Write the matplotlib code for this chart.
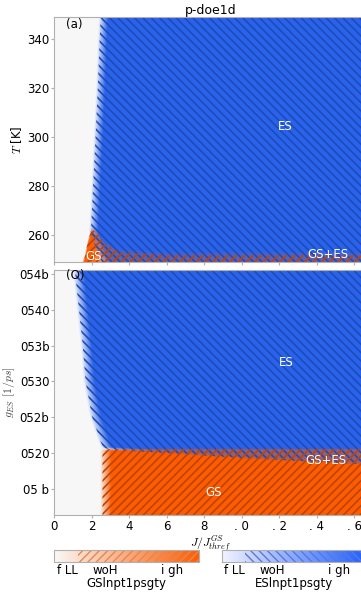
import numpy as np
import matplotlib
matplotlib.use('Agg')
import matplotlib.pyplot as plt
from matplotlib.colors import LinearSegmentedColormap, Normalize
from matplotlib.cm import ScalarMappable

# ---------------- data ----------------
title = "p-doe1d"
x_ticks = [0, 2, 4, 6, 8, 10, 12, 14, 16]
x_ticklabels = ["0", "2", "4", "6", "8", ". 0", ". 2", ". 4", ". 6"]
T_ticks = [260, 280, 300, 320, 340]
g_ticks = [0.015, 0.020, 0.025, 0.030, 0.035, 0.040, 0.045]
g_ticklabels = ["05 b", "0520", "052b", "0530", "053b", "0540", "054b"]
cbar_ticks = [0.09, 0.35, 0.81]
cbar_ticklabels = ["f LL", "woH", "i gh"]
cbar_labels = ["GSlnpt1psgty", "ESlnpt1psgty"]

J_range = [0.0, 16.7]
T_range = [248.8, 349.0]
g_range = [0.0113, 0.0456]

# top panel: ES lasing threshold J vs T
T_es_pts = [248.8, 252, 256, 261, 280, 300, 320, 340, 349]
J_es_pts = [2.45, 2.25, 2.05, 1.85, 1.97, 2.1, 2.22, 2.32, 2.38]
# top panel: GS upper temperature vs J, and GS strength vs J
J_gs_top_pts = [1.5, 1.65, 1.8, 2.0, 2.3, 2.7, 3.5, 6.0, 16.7]
T_gs_top_pts = [248.8, 252, 258, 263, 261, 257, 254, 253, 253]
gs_top_amp = [1.0, 1.0, 1.0, 1.0, 0.8, 0.5, 0.35, 0.3, 0.3]

# bottom panel: ES threshold J vs g_ES
g_es_pts = [0.0113, 0.0205, 0.022, 0.025, 0.030, 0.035, 0.040, 0.045, 0.0456]
J_es_bot_pts = [2.5, 2.5, 2.3, 1.9, 1.55, 1.4, 1.2, 1.0, 1.0]
# bottom panel: ES lower g boundary vs J
J_esfloor_pts = [2.5, 4, 6, 10, 16.7]
g_esfloor_pts = [0.0205, 0.0202, 0.0199, 0.0192, 0.0183]
# bottom panel: GS threshold and upper g
J_gs_bot = 2.45
g_gs_ceiling = 0.0206

top_texts = [("ES", 12.3, 304.5), ("GS+ES", 14.6, 251.8), ("GS", 2.1, 251.0)]
bot_texts = [("ES", 12.4, 0.0326), ("GS+ES", 14.5, 0.0190), ("GS", 8.5, 0.01444)]

# ---------------- colours ----------------
ORANGE = np.array([1.0, 0.36, 0.0])
BLUE = np.array([0.16, 0.39, 0.93])
WHITE = np.array([0.97, 0.97, 0.97])
HATCH_ES = (0.13, 0.29, 0.70)
HATCH_GS = (0.72, 0.27, 0.04)


def mix(gs, es):
    w = 1 - np.maximum(gs, es)
    tot = gs + es + w
    rgb = (gs[..., None] * ORANGE + es[..., None] * BLUE + w[..., None] * WHITE) / tot[..., None]
    return np.clip(rgb, 0, 1)


plt.rcParams['mathtext.fontset'] = 'cm'

W, H = 361, 592
fig = plt.figure(figsize=(W / 100, H / 100), dpi=100)

ax_l = 54.3 / W
ax_w = (367.3 - 54.3) / W
ax_h = 245 / H
ax1 = fig.add_axes([ax_l, 1 - 262.3 / H, ax_w, ax_h])
ax2 = fig.add_axes([ax_l, 1 - 515 / H, ax_w, ax_h])

J = np.linspace(J_range[0], J_range[1], 500)

# top panel field
T = np.linspace(T_range[0], T_range[1], 400)
JJ, TT = np.meshgrid(J, T)
es_t = np.clip((JJ - np.interp(TT, T_es_pts, J_es_pts)) / 0.5, 0, 1)
gs_t = (np.clip((np.interp(JJ, J_gs_top_pts, T_gs_top_pts) - TT) / 2.0, 0, 1)
        * np.interp(JJ, J_gs_top_pts, gs_top_amp))
ax1.imshow(mix(gs_t, es_t), origin='lower', aspect='auto', interpolation='bilinear',
           extent=[J_range[0], J_range[1], T_range[0], T_range[1]])

# bottom panel field
g = np.linspace(g_range[0], g_range[1], 400)
JJ2, GG = np.meshgrid(J, g)
es_b = (np.clip((JJ2 - np.interp(GG, g_es_pts, J_es_bot_pts)) / 0.6, 0, 1)
        * np.clip((GG - np.interp(JJ2, J_esfloor_pts, g_esfloor_pts)) / 0.0004, 0, 1))
gs_b = np.clip((JJ2 - J_gs_bot) / 0.6, 0, 1) * np.clip((g_gs_ceiling - GG) / 0.0003, 0, 1)
ax2.imshow(mix(gs_b, es_b), origin='lower', aspect='auto', interpolation='bilinear',
           extent=[J_range[0], J_range[1], g_range[0], g_range[1]])

plt.rcParams['hatch.linewidth'] = 1.2
for ax, X, Y, gs, es in [(ax1, JJ, TT, gs_t, es_t), (ax2, JJ2, GG, gs_b, es_b)]:
    plt.rcParams['hatch.color'] = HATCH_ES
    ax.contourf(X, Y, es, levels=[0.2, 2], colors='none', hatches=['\\' * 4])
    plt.rcParams['hatch.color'] = HATCH_GS
    ax.contourf(X, Y, gs, levels=[0.2, 2], colors='none', hatches=['/' * 4])

SPINE = '#b0b0b0'
for ax in (ax1, ax2):
    ax.set_xlim(*J_range)
    for s in ax.spines.values():
        s.set_color(SPINE)
    ax.tick_params(length=2, color=SPINE, labelsize=8.5, pad=1.5)

ax1.set_ylim(*T_range)
ax1.set_yticks(T_ticks)
ax1.set_xticks(x_ticks)
ax1.tick_params(axis='x', labelbottom=False)
ax1.set_ylabel("$T$ [K]", fontsize=8.5, labelpad=2)
ax1.set_title(title, fontsize=9, pad=2)
ax1.text(0.6, 346, "(a)", fontsize=8.5, va='center', ha='left')
for s, x, y in top_texts:
    ax1.text(x, y, s, color='white', fontsize=8.5, ha='center', va='center')

ax2.set_ylim(*g_range)
ax2.set_yticks(g_ticks)
ax2.set_yticklabels(g_ticklabels)
ax2.set_xticks(x_ticks)
ax2.set_xticklabels(x_ticklabels)
ax2.set_ylabel("$g_{ES}$ $[1/ps]$", fontsize=8.5, labelpad=2, color='#444444')
ax2.set_xlabel("$J/J^{GS}_{thref}$", fontsize=8.5, labelpad=0)
ax2.text(0.6, 0.0448, "(O)", fontsize=8.5, va='center', ha='left')
for s, x, y in bot_texts:
    ax2.text(x, y, s, color='white', fontsize=8.5, ha='center', va='center')

# colorbars
cmap_gs = LinearSegmentedColormap.from_list('gs', [(0.98, 0.97, 0.96), tuple(ORANGE)])
cmap_es = LinearSegmentedColormap.from_list('es', [(0.95, 0.95, 1.0), (0.12, 0.37, 1.0)])
cb_w = 145 / W
cb_h = 12.3 / H
cb_y = 1 - 562.3 / H
plt.rcParams['hatch.linewidth'] = 1.0
for x0, cmap, lab, hatch, hc in [(54.3 / W, cmap_gs, cbar_labels[0], '/' * 4, '#e0895a'),
                                 (221.7 / W, cmap_es, cbar_labels[1], '\\' * 4, '#5a78d8')]:
    cax = fig.add_axes([x0, cb_y, cb_w, cb_h])
    cb = fig.colorbar(ScalarMappable(norm=Normalize(0, 1), cmap=cmap), cax=cax,
                      orientation='horizontal')
    cax.axvspan(0.16, 1.0, fill=False, hatch=hatch, lw=0, edgecolor=hc)
    cb.set_ticks(cbar_ticks, labels=cbar_ticklabels)
    cb.ax.tick_params(length=0, labelsize=8.5, pad=1)
    cb.outline.set_edgecolor(SPINE)
    cb.set_label(lab, fontsize=8.5, labelpad=0)

fig.savefig('out.png', dpi=100)
